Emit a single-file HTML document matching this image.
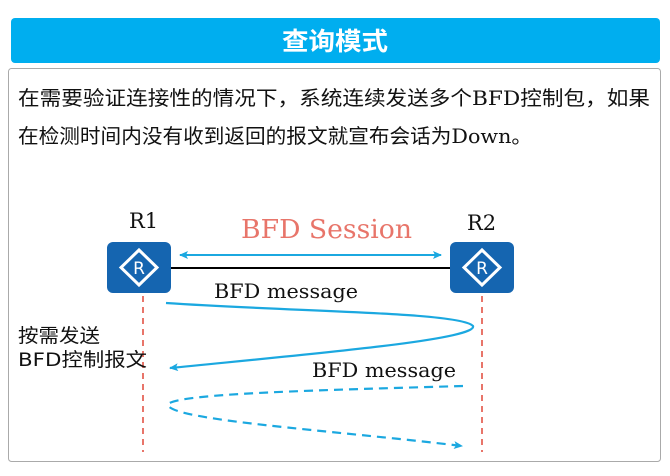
<!DOCTYPE html>
<html><head><meta charset="utf-8"><style>
html,body{margin:0;padding:0;background:#fff;width:670px;height:476px;overflow:hidden}
</style></head><body>
<svg width="670" height="476" viewBox="0 0 670 476" xmlns="http://www.w3.org/2000/svg">
<defs>
<marker id="a" markerWidth="10" markerHeight="8" refX="8" refY="4" orient="auto" markerUnits="userSpaceOnUse"><path d="M0,0 L9,4 L0,8 L2,4 Z" fill="#1BA8E0"/></marker>
<marker id="b" markerWidth="10" markerHeight="8" refX="1" refY="4" orient="auto" markerUnits="userSpaceOnUse"><path d="M9,0 L0,4 L9,8 L7,4 Z" fill="#1BA8E0"/></marker>
</defs>
<rect x="11" y="18" width="649" height="45" rx="4" fill="#00AEEF"/>
<text x="335" y="50" text-anchor="middle" fill="#fff" font-size="25" font-weight="bold" font-family="DejaVu Sans,Noto Sans CJK SC,sans-serif" textLength="106" lengthAdjust="spacingAndGlyphs">查询模式</text>
<rect x="8.5" y="68.5" width="652" height="393" rx="3" fill="#fff" stroke="#aaa"/>
<g font-family="DejaVu Serif,Noto Sans CJK SC,serif" font-size="20" fill="#111">
<text x="18" y="105" textLength="632" lengthAdjust="spacingAndGlyphs">在需要验证连接性的情况下，系统连续发送多个BFD控制包，如果</text>
<text x="18" y="143" textLength="514" lengthAdjust="spacingAndGlyphs">在检测时间内没有收到返回的报文就宣布会话为Down。</text>
</g>
<g font-family="DejaVu Serif,serif" font-size="21" fill="#111">
<text x="129" y="228">R1</text><text x="467" y="230">R2</text>
</g>
<text x="241" y="238" font-family="DejaVu Serif,serif" font-size="26" fill="#E8756A" textLength="171" lengthAdjust="spacingAndGlyphs">BFD Session</text>
<line x1="171" y1="268" x2="450" y2="268" stroke="#000" stroke-width="2"/>
<line x1="180" y1="255" x2="441" y2="255" stroke="#1BA8E0" stroke-width="2" marker-start="url(#b)" marker-end="url(#a)"/>
<g>
<rect x="107" y="242" width="64" height="51" rx="6" fill="#1565B0"/>
<rect x="450" y="242" width="64" height="51" rx="6" fill="#1565B0"/>
<path d="M139,250 L157,267.5 L139,285 L121,267.5 Z M482,250 L500,267.5 L482,285 L464,267.5 Z" fill="none" stroke="#fff" stroke-width="3"/>
<text x="139" y="274" text-anchor="middle" fill="#fff" font-size="17" font-family="DejaVu Sans,sans-serif">R</text>
<text x="482" y="274" text-anchor="middle" fill="#fff" font-size="17" font-family="DejaVu Sans,sans-serif">R</text>
</g>
<line x1="143" y1="296" x2="143" y2="452" stroke="#E8756A" stroke-width="2" stroke-dasharray="6,5"/>
<line x1="482" y1="296" x2="482" y2="452" stroke="#E8756A" stroke-width="2" stroke-dasharray="6,5"/>
<g font-family="DejaVu Serif,serif" font-size="20" fill="#111">
<text x="214" y="298" textLength="144" lengthAdjust="spacingAndGlyphs">BFD message</text><text x="312" y="377" textLength="144" lengthAdjust="spacingAndGlyphs">BFD message</text>
</g>
<g font-family="DejaVu Sans,Noto Sans CJK SC,sans-serif" font-size="19" fill="#111">
<text x="18" y="342" textLength="82" lengthAdjust="spacingAndGlyphs">按需发送</text><text x="18" y="366" textLength="129" lengthAdjust="spacingAndGlyphs">BFD控制报文</text>
</g>
<path d="M166,303 C300,312 460,312 473,326 C478,340 300,355 170,368" fill="none" stroke="#1BA8E0" stroke-width="2.2" marker-end="url(#a)"/>
<path d="M463,386 C330,390 180,393 168,404 C165,420 330,430 462,446" fill="none" stroke="#1BA8E0" stroke-width="2.2" stroke-dasharray="9,6" marker-end="url(#a)"/>
</svg>
</body></html>
